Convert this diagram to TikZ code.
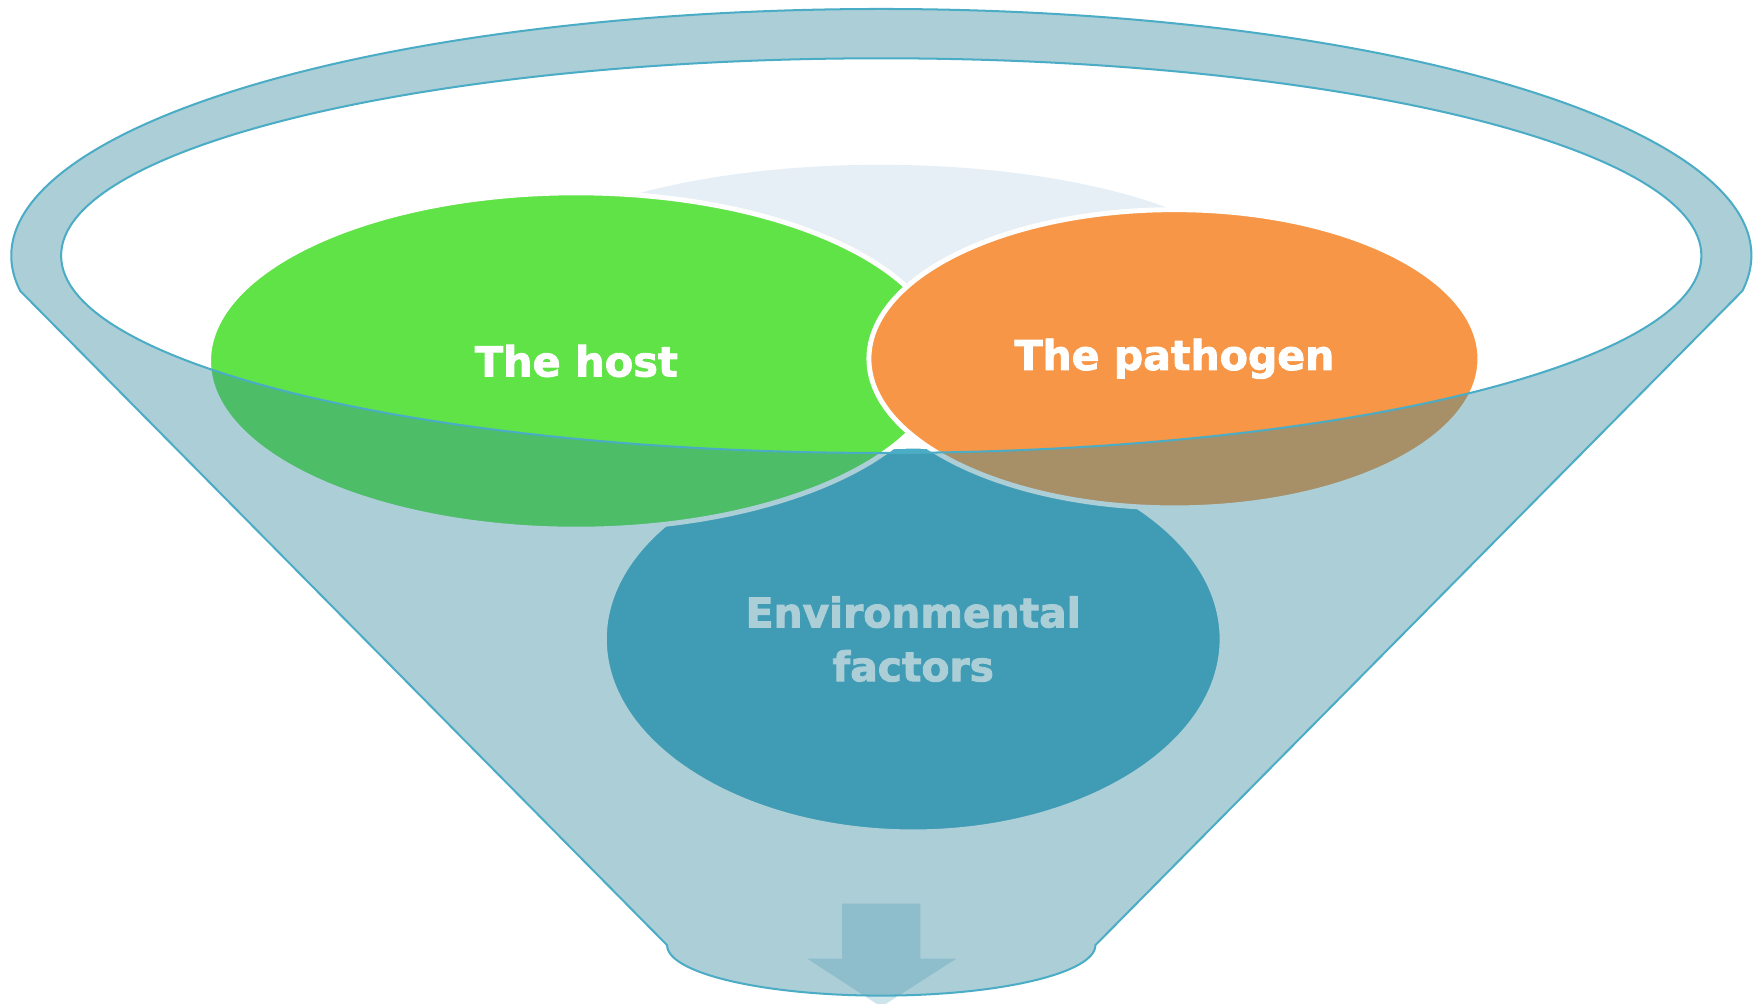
\documentclass[tikz,border=0pt]{standalone}
\usepackage{fontspec}
\newfontfamily\lblfont{DejaVu Sans}[BoldFeatures={FakeBold=2.2}]
\usetikzlibrary{shapes.geometric}
\definecolor{hostgreen}{HTML}{60E346}
\definecolor{pathorange}{HTML}{F79646}
\definecolor{envblue}{HTML}{4BACC6}
\definecolor{faintblue}{HTML}{E6EFF5}
\definecolor{funnelblue}{HTML}{31859C}
\definecolor{rimline}{HTML}{4BACC6}
\definecolor{arrowblue}{HTML}{CDE4EB}
\begin{document}
\begin{tikzpicture}[x=0.5pt,y=0.5pt,
  blob/.style={ellipse, inner sep=0pt, outer sep=0pt, draw=white, line width=2.2pt, text=white, align=center},
  rimstroke/.style={draw=rimline, line width=0.9pt},
  funnelfill/.style={fill=funnelblue, fill opacity=0.4}]
\fill[white] (0,0) rectangle (1568,895);
\useasboundingbox (0,0) rectangle (1568,895);
% faint background ellipse
\node[ellipse, inner sep=0pt, fill=faintblue, minimum width=350pt, minimum height=120pt] (faint) at (785,628) {};
% arrow at the funnel outlet
\fill[arrowblue] (751,89) -- (821,89) -- (821,40) -- (853,40) -- (786,-3) -- (720,40) -- (751,40) -- cycle;
% the three circles
\node[blob, fill=envblue, minimum width=275.5pt, minimum height=172pt,
      font=\lblfont\bfseries\fontsize{18.2}{24}\selectfont] (env) at (814.5,325) {Environmental\\factors};
\node[blob, fill=hostgreen, minimum width=328pt, minimum height=150pt,
      font=\lblfont\bfseries\fontsize{18.5}{22}\selectfont] (host) at (514,573) {The host};
\node[blob, fill=pathorange, minimum width=272.5pt, minimum height=133pt,
      font=\lblfont\bfseries\fontsize{18.3}{22}\selectfont] (pathogen) at (1047.5,575) {The pathogen};
% translucent funnel
\path[funnelfill, even odd rule]
  (1554,635.5) arc[start angle=-8.23, end angle=188.23, x radius=776, y radius=220]
  -- (595,52) arc[start angle=180, end angle=360, x radius=191, y radius=45] -- cycle
  (786,667) ellipse [x radius=731.5, y radius=176];
\draw[rimstroke]
  (1554,635.5) arc[start angle=-8.23, end angle=188.23, x radius=776, y radius=220]
  -- (595,52) arc[start angle=180, end angle=360, x radius=191, y radius=45] -- cycle;
\draw[rimstroke] (786,667) ellipse [x radius=731.5, y radius=176];
\end{tikzpicture}
\end{document}
